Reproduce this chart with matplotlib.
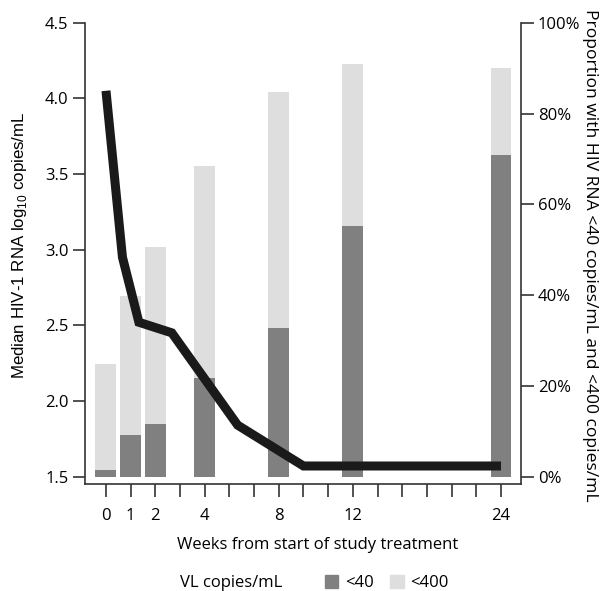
import matplotlib.pyplot as plt
from matplotlib.patches import Patch

plt.rcParams['font.family'] = ['Open Sans', 'DejaVu Sans']
plt.rcParams['mathtext.fontset'] = 'custom'
plt.rcParams['mathtext.rm'] = 'Liberation Sans'

# data
weeks = [0, 1, 2, 4, 8, 12, 24]
week_labels = ['0', '1', '2', '4', '8', '12', '24']
bar_pos = [0, 1, 2, 4, 7, 10, 16]          # tick slot used for each visit's bars
n_slots = 17
median_vl = [4.05, 2.95, 2.52, 2.45, 1.84, 1.57, 1.57]
pct_lt40 = [1.5, 9.2, 11.7, 21.8, 32.8, 55.2, 70.9]
pct_lt400 = [24.8, 39.8, 50.7, 68.4, 84.7, 91.0, 90.0]

dark = '#808080'
light = '#dedede'
axcol = '#333333'

fig = plt.figure(figsize=(6.09, 5.91), dpi=100)
ax = fig.add_axes([85 / 609, 1 - 484.3 / 591, 436 / 609, 461.6 / 591])
ax2 = ax.twinx()

# bars on the right (percent) axis
ax2.bar(bar_pos, pct_lt400, width=0.85, color=light, zorder=1)
ax2.bar(bar_pos, pct_lt40, width=0.85, color=dark, zorder=2)
ax2.set_ylim(-1.67, 100)
ax2.set_yticks([0, 20, 40, 60, 80, 100])
ax2.set_yticklabels(['0%', '20%', '40%', '60%', '80%', '100%'])

# median line on the left axis, on a linear week scale
scale = bar_pos[-1] / weeks[-1]
line_x = [w * scale for w in weeks]
ax.plot(line_x, median_vl, color='#1a1a1a', lw=6.5,
        solid_joinstyle='miter', solid_capstyle='butt', zorder=5)
ax.set_ylim(1.449, 4.5)
ax.set_yticks([1.5, 2.0, 2.5, 3.0, 3.5, 4.0, 4.5])
ax.set_yticklabels(['1.5', '2.0', '2.5', '3.0', '3.5', '4.0', '4.5'])
ax.set_xlim(-0.85, n_slots - 1 + 0.81)
ax.set_xticks(range(n_slots))
labels = [''] * n_slots
for p, l in zip(bar_pos, week_labels):
    labels[p] = l
ax.set_xticklabels(labels)

ax.set_zorder(ax2.get_zorder() + 1)
ax.patch.set_visible(False)

for a in (ax, ax2):
    a.spines['top'].set_visible(False)
    for s in ('left', 'right', 'bottom'):
        a.spines[s].set_color(axcol)
        a.spines[s].set_linewidth(1.2)
    a.tick_params(direction='out', length=9, width=1.2, color=axcol,
                  labelsize=12, pad=3)
ax.spines['right'].set_visible(False)
ax2.spines['left'].set_visible(False)
ax2.spines['bottom'].set_visible(False)
ax.tick_params(axis='x', length=9, pad=8)

fig.text(20 / 609, 1 - 245 / 591, 'Median HIV-1 RNA log$_{10}$ copies/mL',
         rotation=90, ha='center', va='center', fontsize=12.2,
         family='Liberation Sans')
fig.text(590 / 609, 1 - 255 / 591,
         'Proportion with HIV RNA <40 copies/mL and <400 copies/mL',
         rotation=270, ha='center', va='center', fontsize=12.6)
fig.text(318 / 609, 1 - 545 / 591, 'Weeks from start of study treatment',
         ha='center', va='center', fontsize=12)

fig.text(180 / 609, 1 - 583 / 591, 'VL copies/mL', ha='left', va='center',
         fontsize=12)
handles = [Patch(color=dark, label='<40'), Patch(color=light, label='<400')]
fig.legend(handles=handles, ncol=2, frameon=False, fontsize=12,
           loc='center left', bbox_to_anchor=(325 / 609, 1 - 583 / 591),
           handlelength=0.8, handleheight=0.8, handletextpad=0.4,
           columnspacing=1.0, borderaxespad=0, borderpad=0)

fig.savefig('out.png', dpi=100)
